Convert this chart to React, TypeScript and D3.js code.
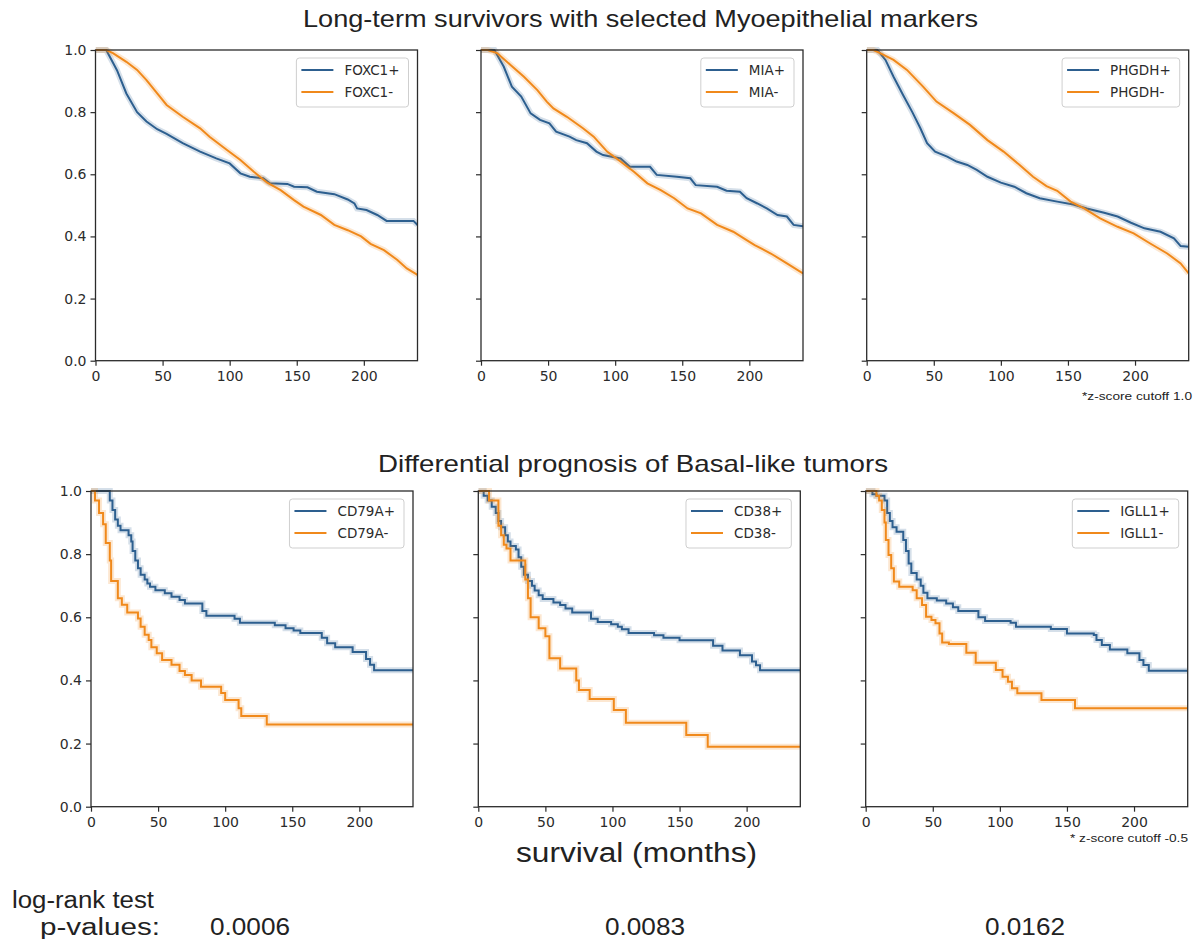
import React, { useEffect, useRef } from "react";
import * as d3 from "d3";

type Pt = [number, number];

const xTicks = [0, 50, 100, 150, 200];
const yTicks = [0, 0.2, 0.4, 0.6, 0.8, 1.0];
const xMax = 240;

// top row - many patients, curves read as a polyline
const foxc1Pos: Pt[] = [[0, 1], [8, 1], [16, 0.935], [23, 0.86], [31, 0.8], [38, 0.77], [46, 0.745], [53, 0.73], [65, 0.7], [78, 0.673], [90, 0.651], [100, 0.635], [108, 0.603], [115, 0.592], [125, 0.587], [130, 0.571], [143, 0.569], [148, 0.56], [158, 0.558], [165, 0.544], [178, 0.536], [188, 0.519], [193, 0.506], [195, 0.49], [202, 0.485], [210, 0.469], [217, 0.45], [237, 0.45], [240, 0.437]];
const foxc1Neg: Pt[] = [[0, 1], [8, 1], [13, 0.99], [23, 0.962], [31, 0.936], [38, 0.903], [46, 0.86], [53, 0.823], [65, 0.785], [78, 0.748], [85, 0.721], [98, 0.678], [108, 0.646], [118, 0.608], [128, 0.573], [138, 0.549], [148, 0.517], [155, 0.496], [168, 0.469], [178, 0.437], [188, 0.42], [198, 0.4], [205, 0.376], [215, 0.356], [225, 0.324], [232, 0.297], [240, 0.276]];
const miaPos: Pt[] = [[0, 1], [10, 1], [17, 0.946], [23, 0.882], [30, 0.85], [37, 0.796], [44, 0.775], [51, 0.764], [56, 0.737], [66, 0.721], [71, 0.71], [79, 0.7], [86, 0.673], [91, 0.662], [104, 0.651], [111, 0.624], [126, 0.624], [131, 0.598], [146, 0.592], [156, 0.587], [160, 0.565], [176, 0.56], [183, 0.547], [193, 0.544], [198, 0.523], [206, 0.506], [213, 0.49], [221, 0.469], [228, 0.464], [233, 0.437], [240, 0.433]];
const miaNeg: Pt[] = [[0, 1], [5, 1], [12, 0.99], [22, 0.952], [32, 0.914], [42, 0.871], [49, 0.834], [54, 0.812], [64, 0.785], [76, 0.748], [84, 0.721], [94, 0.673], [104, 0.641], [114, 0.608], [124, 0.571], [134, 0.549], [144, 0.523], [154, 0.49], [164, 0.474], [176, 0.437], [188, 0.415], [198, 0.388], [204, 0.372], [216, 0.345], [228, 0.313], [240, 0.281]];
const phgdhPos: Pt[] = [[0, 1], [8, 1], [14, 0.968], [20, 0.914], [27, 0.856], [34, 0.8], [40, 0.748], [45, 0.7], [51, 0.673], [60, 0.657], [67, 0.641], [75, 0.63], [82, 0.614], [90, 0.592], [100, 0.573], [110, 0.56], [119, 0.539], [129, 0.523], [142, 0.512], [154, 0.503], [164, 0.49], [177, 0.476], [187, 0.464], [197, 0.444], [207, 0.426], [219, 0.415], [229, 0.394], [234, 0.369], [240, 0.367]];
const phgdhNeg: Pt[] = [[0, 1], [5, 1], [10, 0.99], [20, 0.968], [30, 0.936], [42, 0.882], [52, 0.834], [65, 0.796], [77, 0.759], [90, 0.71], [102, 0.673], [114, 0.63], [124, 0.592], [134, 0.562], [142, 0.547], [152, 0.512], [162, 0.49], [174, 0.458], [187, 0.431], [199, 0.41], [211, 0.378], [224, 0.345], [234, 0.313], [240, 0.281]];

// bottom row - Kaplan-Meier steps (time, survival from that time on)
const cd79aPos: Pt[] = [[0, 1], [14, 0.97], [16, 0.94], [18, 0.91], [20, 0.89], [22, 0.876], [28, 0.86], [30, 0.84], [31, 0.81], [33, 0.78], [35, 0.755], [37, 0.735], [40, 0.72], [42, 0.707], [44, 0.697], [48, 0.686], [55, 0.676], [60, 0.665], [66, 0.655], [70, 0.644], [83, 0.62], [86, 0.605], [107, 0.595], [111, 0.583], [137, 0.575], [145, 0.565], [151, 0.558], [156, 0.55], [172, 0.535], [176, 0.518], [182, 0.505], [195, 0.49], [205, 0.468], [208, 0.45], [211, 0.432]];
const cd79aNeg: Pt[] = [[0, 1], [3, 0.97], [6, 0.93], [9, 0.895], [11, 0.835], [14, 0.78], [15, 0.715], [20, 0.66], [23, 0.64], [27, 0.615], [35, 0.596], [37, 0.57], [40, 0.545], [43, 0.528], [45, 0.505], [49, 0.486], [53, 0.465], [60, 0.45], [66, 0.43], [70, 0.417], [75, 0.4], [82, 0.38], [97, 0.36], [100, 0.338], [110, 0.312], [112, 0.287], [131, 0.26]];
const cd38Pos: Pt[] = [[0, 1], [4, 0.985], [7, 0.97], [10, 0.95], [13, 0.93], [15, 0.905], [17, 0.885], [20, 0.86], [22, 0.84], [24, 0.826], [28, 0.815], [30, 0.79], [32, 0.76], [34, 0.735], [37, 0.715], [40, 0.7], [42, 0.685], [45, 0.67], [48, 0.658], [56, 0.647], [61, 0.639], [65, 0.628], [70, 0.615], [84, 0.595], [89, 0.585], [99, 0.578], [104, 0.57], [107, 0.562], [112, 0.55], [131, 0.543], [138, 0.535], [150, 0.527], [175, 0.51], [182, 0.495], [195, 0.48], [204, 0.46], [207, 0.448], [210, 0.432]];
const cd38Neg: Pt[] = [[0, 1], [8, 0.97], [15, 0.89], [17, 0.86], [19, 0.83], [21, 0.818], [24, 0.78], [35, 0.72], [37, 0.66], [39, 0.6], [45, 0.565], [50, 0.54], [53, 0.47], [61, 0.438], [73, 0.4], [75, 0.37], [83, 0.341], [101, 0.306], [110, 0.266], [155, 0.227], [171, 0.19]];
const igll1Pos: Pt[] = [[0, 1], [5, 0.99], [8, 0.985], [14, 0.97], [16, 0.93], [18, 0.905], [20, 0.885], [23, 0.871], [28, 0.845], [30, 0.81], [32, 0.77], [34, 0.74], [38, 0.72], [41, 0.7], [43, 0.678], [46, 0.66], [53, 0.653], [60, 0.644], [65, 0.632], [69, 0.62], [84, 0.6], [89, 0.588], [108, 0.583], [112, 0.57], [138, 0.563], [150, 0.549], [170, 0.544], [172, 0.528], [176, 0.512], [182, 0.498], [195, 0.486], [204, 0.465], [207, 0.449], [211, 0.431]];
const igll1Neg: Pt[] = [[0, 1], [8, 0.985], [10, 0.97], [12, 0.94], [14, 0.9], [15, 0.845], [17, 0.797], [19, 0.755], [21, 0.713], [25, 0.697], [35, 0.686], [38, 0.66], [42, 0.639], [45, 0.602], [49, 0.591], [52, 0.581], [55, 0.549], [57, 0.52], [62, 0.515], [75, 0.488], [82, 0.456], [97, 0.433], [102, 0.412], [106, 0.396], [109, 0.375], [113, 0.359], [131, 0.338], [156, 0.312]];

const markers = ["FOXC1", "MIA", "PHGDH", "CD79A", "CD38", "IGLL1"];
const posSeries = [foxc1Pos, miaPos, phgdhPos, cd79aPos, cd38Pos, igll1Pos];
const negSeries = [foxc1Neg, miaNeg, phgdhNeg, cd79aNeg, cd38Neg, igll1Neg];
const rowTitles = ["Long-term survivors with selected Myoepithelial markers", "Differential prognosis of Basal-like tumors"];
const cutoffNotes = ["*z-score cutoff 1.0", "* z-score cutoff -0.5"];
const pValues = ["0.0006", "0.0083", "0.0162"];

const BLUE = "#2d5f8f";
const ORANGE = "#f0891b";
const INK = "#2b2b2b";
const TITLE_FONT = "'Liberation Sans', Arial, sans-serif";
const TICK_FONT = "'DejaVu Sans', sans-serif";

// panel layout
const rows = [
    { top: 50, bottom: 360.7, lefts: [95.5, 481, 866.7] },
    { top: 491, bottom: 806.7, lefts: [91, 478.3, 865.7] },
];
const panelW = 322;

const measure = (txt, font) => {
    const c = document.createElement("canvas").getContext("2d");
    c.font = font;
    return c.measureText(txt).width;
};

const App = () => {
    const ref = useRef(null);

    useEffect(() => {
        document.body.style.margin = "0";
        const svg = d3.select(ref.current);
        svg.selectAll("*").remove();

        markers.forEach((name, i) => {
            const r = Math.floor(i / 3);
            const c = i % 3;
            const row = rows[r];
            const left = row.lefts[c];
            const right = left + panelW;
            const step = r === 1;

            const x = d3.scaleLinear().domain([0, xMax]).range([left, right]);
            const y = d3.scaleLinear().domain([0, 1]).range([row.bottom, row.top]);

            const g = svg.append("g");
            const clipId = `clip-${i}`;
            g.append("clipPath").attr("id", clipId)
                .append("rect")
                .attr("x", left).attr("y", row.top - 3)
                .attr("width", panelW).attr("height", row.bottom - row.top + 6);

            const line = d3.line<Pt>()
                .x(d => x(d[0]))
                .y(d => y(d[1]))
                .curve(step ? d3.curveStepAfter : d3.curveLinear);

            const extend = (s: Pt[]) => {
                const last = s[s.length - 1];
                return last[0] < xMax ? [...s, [xMax, last[1]] as Pt] : s;
            };

            const curves = g.append("g").attr("clip-path", `url(#${clipId})`);
            [[posSeries[i], BLUE], [negSeries[i], ORANGE]].forEach(([s, col]) => {
                const d = line(extend(s as Pt[]));
                // faint confidence band
                curves.append("path").attr("d", d).attr("fill", "none")
                    .attr("stroke", col).attr("stroke-opacity", 0.2).attr("stroke-width", 6);
                curves.append("path").attr("d", d).attr("fill", "none")
                    .attr("stroke", col).attr("stroke-width", 2);
            });

            // axes
            const xAxis = g.append("g")
                .attr("transform", `translate(0,${row.bottom})`)
                .call(d3.axisBottom(x).tickValues(xTicks).tickSize(5).tickPadding(5).tickFormat(d3.format("d")));
            const yAxis = g.append("g")
                .attr("transform", `translate(${left},0)`)
                .call(d3.axisLeft(y).tickValues(yTicks).tickSize(5).tickPadding(4)
                    .tickFormat(c === 0 ? d3.format(".1f") : () => ""));
            [xAxis, yAxis].forEach(a => {
                a.select(".domain").remove();
                a.selectAll("line").attr("stroke", INK).attr("stroke-width", 1.2);
                a.selectAll("text").attr("fill", INK).attr("font-family", TICK_FONT).attr("font-size", 14);
            });

            g.append("rect")
                .attr("x", left).attr("y", row.top)
                .attr("width", panelW).attr("height", row.bottom - row.top)
                .attr("fill", "none").attr("stroke", INK).attr("stroke-width", 1.3);

            // legend
            const labels = [`${name}+`, `${name}-`];
            const font = `13.5px ${TICK_FONT}`;
            const tw = d3.max(labels, l => measure(l, font));
            const boxR = right - 9;
            const textX = boxR - 9 - tw;
            const lineX2 = textX - 11;
            const lineX1 = lineX2 - 32;
            const boxL = lineX1 - 5;
            const boxT = row.top + 8;
            const lg = g.append("g");
            lg.append("rect")
                .attr("x", boxL).attr("y", boxT)
                .attr("width", boxR - boxL).attr("height", 49)
                .attr("rx", 3).attr("fill", "#fff").attr("fill-opacity", 0.85)
                .attr("stroke", "#cfcfcf");
            labels.forEach((l, k) => {
                const cy = boxT + 12 + k * 22;
                lg.append("line")
                    .attr("x1", lineX1).attr("x2", lineX2)
                    .attr("y1", cy).attr("y2", cy)
                    .attr("stroke", k === 0 ? BLUE : ORANGE).attr("stroke-width", 2);
                lg.append("text")
                    .attr("x", textX).attr("y", cy + 5)
                    .attr("font-family", TICK_FONT).attr("font-size", 13.5)
                    .attr("fill", INK).text(l);
            });
        });

        // titles and notes
        const text = (t, xPos, yPos, size, anchor = "start", len = null) => {
            const el = svg.append("text")
                .attr("x", xPos).attr("y", yPos)
                .attr("font-family", TITLE_FONT).attr("font-size", size)
                .attr("fill", "#222").attr("text-anchor", anchor).text(t);
            if (len) el.attr("textLength", len).attr("lengthAdjust", "spacingAndGlyphs");
            return el;
        };

        text(rowTitles[0], 303, 27, 24, "start", 675);
        text(rowTitles[1], 378, 472, 24, "start", 510);
        text(cutoffNotes[0], 1192, 400, 11.5, "end", 110);
        text(cutoffNotes[1], 1188, 842, 11.5, "end", 118);
        text("survival (months)", 516, 862, 27, "start", 241);
        text("log-rank test", 12, 908, 23, "start", 142);
        text("p-values:", 40, 935, 23, "start", 120);
        [210, 605, 985].forEach((px, k) => text(pValues[k], px, 935, 23, "start", 80));
    }, []);

    return <svg ref={ref} width={1199} height={939} style={{ display: "block", background: "#fff" }} />;
};

export default App;
